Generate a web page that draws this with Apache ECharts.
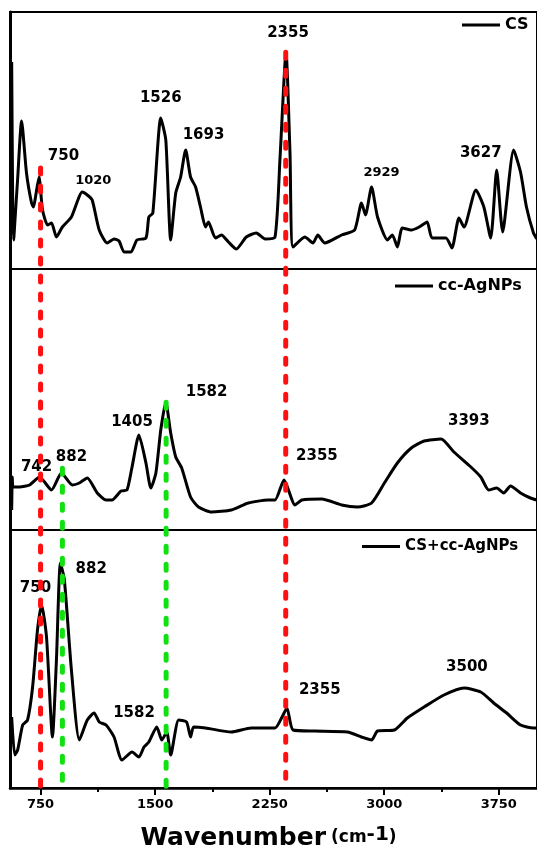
<!DOCTYPE html>
<html><head><meta charset="utf-8">
<script src="https://cdn.jsdelivr.net/npm/echarts@6/dist/echarts.min.js"></script>
<style>html,body{margin:0;padding:0;background:#fff}#c{width:537px;height:853px}</style>
</head><body><div id="c"></div>
<script>
// ---- data (wavenumber cm-1, relative intensity a.u.) ----
const csSpectrum = [[561,207],[568,60],[574,29],[581,45],[600,90],[626,148],[658,96],[691,66],[704,62],[717,72],[740,92],[763,59],[796,44],[822,46],[854,32],[893,42],[952,52],[1023,77],[1056,74],[1088,69],[1134,39],[1186,26],[1231,30],[1264,28],[1297,17],[1342,17],[1381,29],[1440,31],[1459,52],[1485,56],[1537,151],[1570,129],[1602,29],[1635,76],[1667,92],[1700,119],[1732,92],[1765,82],[1797,62],[1830,42],[1849,47],[1895,31],[1934,34],[1980,27],[2032,20],[2097,32],[2162,36],[2220,30],[2285,32],[2318,112],[2357,217],[2383,116],[2403,22],[2481,32],[2533,26],[2565,34],[2611,26],[2721,34],[2806,39],[2851,66],[2877,54],[2917,82],[2956,52],[3021,29],[3053,34],[3086,22],[3118,41],[3177,39],[3229,42],[3281,47],[3313,31],[3404,31],[3443,21],[3489,51],[3522,42],[3600,79],[3652,62],[3697,31],[3736,99],[3775,37],[3847,119],[3892,97],[3931,62],[3977,36],[4000,30]];
const agSpectrum = [[561,20],[565,53],[570,43],[613,43],[678,45],[743,53],[822,40],[887,57],[958,45],[1004,47],[1056,52],[1121,37],[1179,30],[1218,30],[1277,39],[1316,40],[1349,63],[1394,95],[1440,67],[1472,42],[1505,57],[1537,100],[1570,128],[1602,97],[1635,73],[1674,62],[1732,33],[1784,23],[1869,18],[1999,20],[2110,27],[2240,30],[2285,30],[2344,50],[2416,25],[2461,30],[2591,31],[2721,25],[2825,23],[2917,27],[3001,47],[3086,67],[3177,82],[3261,89],[3372,91],[3456,78],[3567,63],[3632,53],[3684,40],[3736,42],[3782,37],[3827,44],[3892,37],[3957,32],[4000,30]];
const mixSpectrum = [[561,71],[581,33],[600,38],[633,63],[665,68],[698,101],[730,158],[757,183],[789,151],[828,51],[854,128],[880,225],[906,208],[952,118],[1004,48],[1056,68],[1101,75],[1134,66],[1179,63],[1231,51],[1283,28],[1349,36],[1394,31],[1427,41],[1459,46],[1511,61],[1544,48],[1576,56],[1602,33],[1654,68],[1706,66],[1732,51],[1752,61],[1830,60],[1999,56],[2129,60],[2285,60],[2331,71],[2363,80],[2403,58],[2546,57],[2760,56],[2851,51],[2917,48],[2956,57],[3066,58],[3151,70],[3261,81],[3391,93],[3522,100],[3632,96],[3717,85],[3801,75],[3892,63],[3977,60],[4000,60]];
const seriesNames = ['CS','cc-AgNPs','CS+cc-AgNPs'];
// peak annotations: [text, x, y, fontSize]
const csLabels = [['750',900,113,15],['1020',1095,88,13],['1526',1537,171,15],['1693',1817,134,15],['2355',2370,236,15],['2929',2982,96,13],['3627',3632,116,15]];
const agLabels = [['742',724,63,15],['882',952,73,15],['1405',1349,108,15],['1582',1837,138,15],['2355',2559,74,15],['3393',3554,109,15]];
const mixLabels = [['750',717,200,15],['882',1082,219,15],['1582',1362,75,15],['2355',2578,98,15],['3500',3541,121,15]];
// guide lines: [wavenumber, top fraction of full plot height, colour]
const guideLines = [[750,0.799,'#ff1010'],[2355,0.948,'#ff1010'],[893,0.412,'#11e011'],[1572,0.497,'#11e011']];
const majorTicks = [750,1500,2250,3000,3750];
const minorTicks = [1125,1875,2625,3375];
const xMin = 550, xMax = 4000;
const panelMax = [257,261,258];

const FONT = 'DejaVu Sans';
const chart = echarts.init(document.getElementById('c'));
const panels = [{top:12,h:257},{top:269,h:261},{top:530,h:258}];
const grids = panels.map(p=>({left:10,right:-3,top:p.top,height:p.h,show:true,borderColor:'#000',borderWidth:2,containLabel:false}));
grids.push({left:10,right:-3,top:12,height:776,show:false});
const xAxes = [0,1,2].map(i=>({type:'value',gridIndex:i,min:xMin,max:xMax,
  axisLine:{show:i===2,lineStyle:{color:'#000',width:2.5}},
  axisTick:i===2?{show:true,customValues:majorTicks,length:7,lineStyle:{color:'#000',width:2}}:{show:false},
  axisLabel:i===2?{show:true,customValues:majorTicks,formatter:v=>String(v),fontFamily:FONT,fontWeight:'bold',fontSize:13,color:'#000',margin:10}:{show:false},
  splitLine:{show:false}}));
xAxes.push({type:'value',gridIndex:3,min:xMin,max:xMax,show:false});
xAxes.push({type:'value',gridIndex:2,min:xMin,max:xMax,position:'bottom',axisLine:{show:false},
  axisTick:{show:true,customValues:minorTicks,length:4,lineStyle:{color:'#000',width:2}},axisLabel:{show:false},splitLine:{show:false}});
const yAxes = [0,1,2].map(i=>({type:'value',gridIndex:i,min:0,max:panelMax[i],
  axisLine:{show:true,lineStyle:{color:'#000',width:3}},axisTick:{show:false},axisLabel:{show:false},splitLine:{show:false}}));
yAxes.push({type:'value',gridIndex:3,min:0,max:1,show:false});

const spectra = [csSpectrum,agSpectrum,mixSpectrum];
const labelSets = [csLabels,agLabels,mixLabels];
const series = [];
spectra.forEach((d,i)=>{
  series.push({name:seriesNames[i],type:'line',xAxisIndex:i,yAxisIndex:i,data:d,symbol:'none',smooth:0.2,
    lineStyle:{color:'#000',width:3},itemStyle:{color:'#000'},z:3});
});
labelSets.forEach((ls,i)=>{
  series.push({type:'scatter',xAxisIndex:i,yAxisIndex:i,symbolSize:1,itemStyle:{color:'rgba(0,0,0,0)',opacity:1},silent:true,z:4,
    data:ls.map(l=>({name:l[0],value:[l[1],l[2]],label:{show:true,position:'inside',fontSize:l[3],color:'#000',fontFamily:FONT,fontWeight:'bold'}})),
    label:{show:true,position:'inside',formatter:p=>p.name,color:'#000',fontFamily:FONT,fontWeight:'bold'}});
});
guideLines.forEach(g=>{
  series.push({type:'line',xAxisIndex:3,yAxisIndex:3,data:[[g[0],g[1]],[g[0],0]],symbol:'none',silent:true,z:6,
    lineStyle:{color:g[2],width:5,type:[6,12],cap:'round'}});
});

const legendPos = [{left:462,top:17,fs:16},{left:395,top:278,fs:16},{left:362,top:539,fs:15}];
const legends = legendPos.map((p,i)=>({data:[{name:seriesNames[i],icon:'rect'}],left:p.left,top:p.top,padding:0,itemWidth:38,itemHeight:3,itemGap:5,
  selectedMode:false,itemStyle:{color:'#000'},textStyle:{fontFamily:FONT,fontWeight:'bold',fontSize:p.fs,color:'#000'}}));

chart.setOption({
  animation:false,
  backgroundColor:'#fff',
  title:{text:'{a|Wavenumber} {b|(cm}{c|-1}{b|)}',left:'center',top:825,padding:0,
    textStyle:{rich:{
      a:{fontFamily:FONT,fontWeight:'bold',fontSize:25,color:'#000'},
      b:{fontFamily:FONT,fontWeight:'bold',fontSize:17,color:'#000'},
      c:{fontFamily:FONT,fontWeight:'bold',fontSize:20,color:'#000',padding:[0,0,6,0]}}}},
  legend:legends,
  grid:grids,xAxis:xAxes,yAxis:yAxes,series:series
});
</script></body></html>
